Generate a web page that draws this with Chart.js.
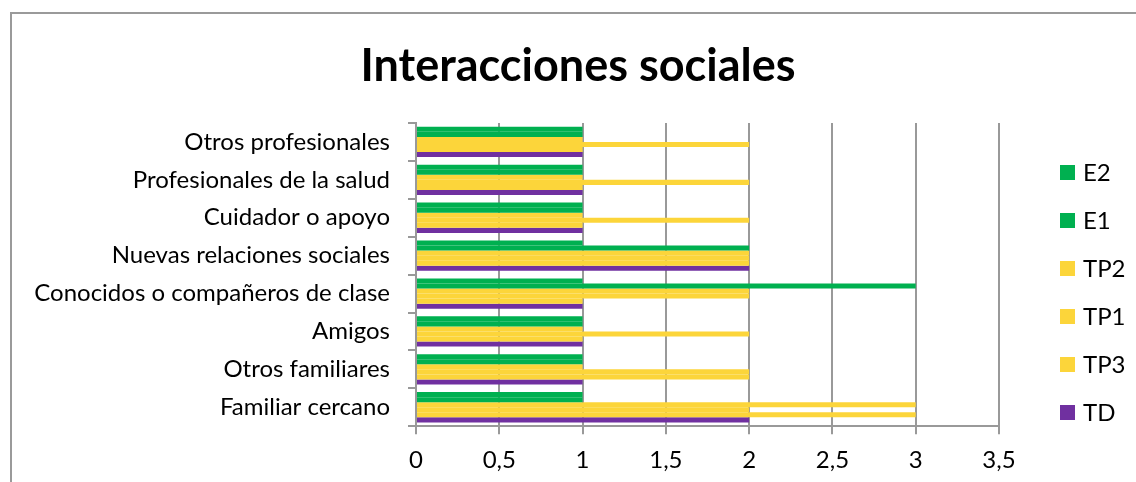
<!DOCTYPE html>
<html>
<head>
<meta charset="utf-8">
<script src="https://cdn.jsdelivr.net/npm/chart.js@4"></script>
<style>
  html, body { margin: 0; padding: 0; background: #fff; overflow: hidden; }
  #frame { position: absolute; left: 10px; top: 12px; width: 1200px; height: 600px;
           border-left: 2px solid #9a9a9a; border-top: 2px solid #9a9a9a; }
  #wrap { position: absolute; left: 0; top: 0; width: 1136px; height: 482px; }
  #title { position: absolute; left: 10px; top: 37px; width: 1136px; height: 54px; line-height: 54px;
           text-align: center; font-family: Lato, "Open Sans", sans-serif; font-size: 45px;
           font-weight: bold; color: #000; }
  #legend { position: absolute; left: 1060px; top: 148px; margin: 0; padding: 0; list-style: none;
            font-family: Lato, "Open Sans", sans-serif; font-size: 24px; color: #000; }
  #legend li { height: 48px; line-height: 32px; display: flex; align-items: center; }
  #legend span.box { display: inline-block; width: 15px; height: 15px; margin-right: 8px; }
</style>
</head>
<body>
<div id="frame"></div>
<div id="wrap"><canvas id="chart"></canvas></div>
<div id="title">Interacciones sociales</div>
<ul id="legend"></ul>
<script>
// categories, top to bottom as drawn
const categories = [
    'Otros profesionales',
    'Profesionales de la salud',
    'Cuidador o apoyo',
    'Nuevas relaciones sociales',
    'Conocidos o compañeros de clase',
    'Amigos',
    'Otros familiares',
    'Familiar cercano'
];

const e2 = [1, 1, 1, 1, 1, 1, 1, 1];
const e1 = [1, 1, 1, 2, 3, 1, 1, 1];
const tp2 = [1, 1, 1, 2, 2, 1, 1, 3];
const tp1 = [2, 2, 2, 2, 2, 2, 2, 2];
const tp3 = [1, 1, 1, 2, 1, 1, 2, 3];
const td = [1, 1, 1, 2, 1, 1, 1, 2];

const xTicks = [0, 0.5, 1, 1.5, 2, 2.5, 3, 3.5];

const GREEN = '#00b050';
const YELLOW = '#fcd53a';
const PURPLE = '#7030a0';

function series(label, data, color) {
    return {
        label: label,
        data: data,
        backgroundColor: color,
        borderWidth: 0,
        barPercentage: 1.0,
        categoryPercentage: 0.8
    };
}

const FONT = 'Lato, "Open Sans", sans-serif';

const chart = new Chart(document.getElementById('chart').getContext('2d'), {
    type: 'bar',
    data: {
        labels: categories,
        datasets: [
            series('E2', e2, GREEN),
            series('E1', e1, GREEN),
            series('TP2', tp2, YELLOW),
            series('TP1', tp1, YELLOW),
            series('TP3', tp3, YELLOW),
            series('TD', td, PURPLE)
        ]
    },
    options: {
        indexAxis: 'y',
        responsive: true,
        maintainAspectRatio: false,
        animation: false,
        layout: { padding: { left: 0, right: 137, top: 123, bottom: -5 } },
        plugins: {
            title: { display: false },
            legend: { display: false },
            tooltip: { enabled: false }
        },
        scales: {
            x: {
                min: 0,
                max: 3.5,
                afterBuildTicks: axis => {
                    axis.ticks = xTicks.map(v => ({ value: v }));
                },
                ticks: {
                    color: '#000',
                    font: { family: FONT, size: 24 },
                    padding: 12,
                    callback: v => String(v).replace('.', ',')
                },
                grid: {
                    color: '#999',
                    lineWidth: 2,
                    tickLength: 8
                },
                border: { color: '#999', width: 2 }
            },
            y: {
                afterFit: axis => { axis.width = 416; },
                ticks: {
                    color: '#000',
                    font: { family: FONT, size: 24 },
                    padding: 18
                },
                grid: {
                    offset: true,
                    drawOnChartArea: false,
                    color: '#999',
                    lineWidth: 2,
                    tickLength: 8
                },
                border: { color: '#999', width: 2 }
            }
        }
    }
});

// legend, listed in dataset order
const legendEl = document.getElementById('legend');
chart.data.datasets.forEach(ds => {
    const li = document.createElement('li');
    const box = document.createElement('span');
    box.className = 'box';
    box.style.background = ds.backgroundColor;
    li.appendChild(box);
    li.appendChild(document.createTextNode(ds.label));
    legendEl.appendChild(li);
});
</script>
</body>
</html>
